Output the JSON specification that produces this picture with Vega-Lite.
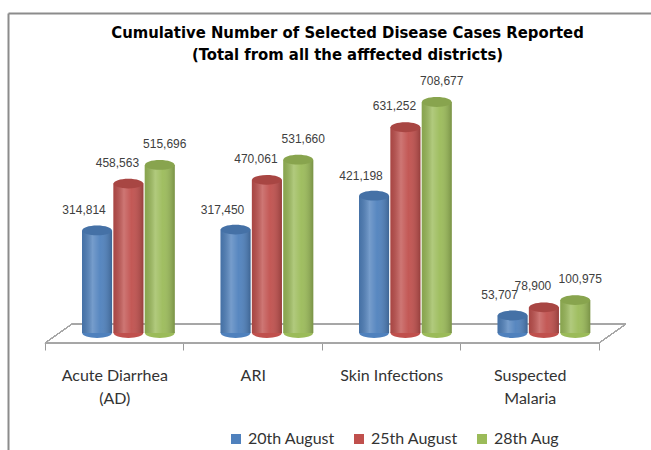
{
  "$schema": "https://vega.github.io/schema/vega-lite/v6.json",
  "width": 643,
  "height": 437,
  "autosize": {"type": "none"},
  "padding": {"left": 8, "top": 13, "right": 0, "bottom": 0},
  "background": "white",
  "config": {
    "view": {"stroke": null},
    "axis": {"grid": false},
    "axisY": {"domain": true, "domainColor": "#8c8c8c", "domainWidth": 2, "ticks": false, "labels": false}
  },
  "title": {
    "text": ["Cumulative Number of Selected Disease  Cases Reported", "(Total from all the afffected districts)"],
    "font": "DejaVu Sans Condensed",
    "fontSize": 16.5,
    "fontWeight": "bold",
    "color": "black",
    "anchor": "middle",
    "dx": 18,
    "offset": -50,
    "lineHeight": 22
  },
  "data": {
    "values": [
      {"disease": "Acute Diarrhea (AD)", "date": "20th August", "cases": 314814},
      {"disease": "Acute Diarrhea (AD)", "date": "25th August", "cases": 458563},
      {"disease": "Acute Diarrhea (AD)", "date": "28th Aug", "cases": 515696},
      {"disease": "ARI", "date": "20th August", "cases": 317450},
      {"disease": "ARI", "date": "25th August", "cases": 470061},
      {"disease": "ARI", "date": "28th Aug", "cases": 531660},
      {"disease": "Skin Infections", "date": "20th August", "cases": 421198},
      {"disease": "Skin Infections", "date": "25th August", "cases": 631252},
      {"disease": "Skin Infections", "date": "28th Aug", "cases": 708677},
      {"disease": "Suspected Malaria", "date": "20th August", "cases": 53707},
      {"disease": "Suspected Malaria", "date": "25th August", "cases": 78900},
      {"disease": "Suspected Malaria", "date": "28th Aug", "cases": 100975}
    ]
  },
  "layer": [
    {
      "encoding": {
        "x": {
          "field": "disease", "type": "nominal",
          "scale": {"type": "band", "domain": ["Acute Diarrhea (AD)", "ARI", "Skin Infections", "Suspected Malaria"], "paddingInner": 0, "paddingOuter": 0.3213, "align": 0.4157},
          "axis": {
            "orient": "bottom", "title": null, "tickBand": "extent", "offset": -107, "domain": false,
            "tickColor": "#9a9a9a", "tickSize": 7,
            "labelFont": "Lato", "labelFontSize": 16, "labelColor": "#333333", "labelPadding": 17, "labelLineHeight": 23, "labelAngle": 0,
            "labelExpr": "datum.label == 'Acute Diarrhea (AD)' ? ['Acute Diarrhea', '(AD)'] : datum.label == 'Suspected Malaria' ? ['Suspected', 'Malaria'] : datum.label"
          }
        }
      },
      "layer": [
        {"mark": {"type": "point", "opacity": 0}},
        {
          "mark": {"type": "rule", "color": "#a6a6a6", "yOffset": 10},
          "encoding": {
            "x": {"datum": "Acute Diarrhea (AD)", "type": "nominal", "bandPosition": 0},
            "x2": {"datum": "Suspected Malaria", "bandPosition": 1},
            "y": {"datum": 0, "type": "quantitative", "title": null, "scale": {"domain": [-358942, 981722], "nice": false, "zero": false}}
          }
        },
        {
          "mark": {"type": "rule", "color": "#a6a6a6", "yOffset": -9},
          "encoding": {
            "x": {"datum": "Acute Diarrhea (AD)", "type": "nominal", "bandPosition": 0.195},
            "x2": {"datum": "Suspected Malaria", "bandPosition": 1.195},
            "y": {"datum": 0, "type": "quantitative", "title": null}
          }
        },
        {
          "mark": {"type": "rule", "color": "#a6a6a6", "yOffset": 10, "y2Offset": -9},
          "encoding": {
            "x": {"datum": "Acute Diarrhea (AD)", "type": "nominal", "bandPosition": 0},
            "x2": {"datum": "Acute Diarrhea (AD)", "bandPosition": 0.195},
            "y": {"datum": 0, "type": "quantitative", "title": null},
            "y2": {"datum": 0}
          }
        },
        {
          "mark": {"type": "rule", "color": "#a6a6a6", "yOffset": 10, "y2Offset": -9},
          "encoding": {
            "x": {"datum": "Suspected Malaria", "type": "nominal", "bandPosition": 1},
            "x2": {"datum": "Suspected Malaria", "bandPosition": 1.195},
            "y": {"datum": 0, "type": "quantitative", "title": null},
            "y2": {"datum": 0}
          }
        }
      ]
    },
    {
      "encoding": {
        "x": {
          "field": "disease", "type": "nominal",
          "scale": {"type": "band", "domain": ["Acute Diarrhea (AD)", "ARI", "Skin Infections", "Suspected Malaria"], "paddingInner": 0.33, "paddingOuter": 0.4863, "align": 0.5494},
          "axis": {"orient": "top", "title": null, "domain": true, "domainColor": "#8c8c8c", "domainWidth": 2, "ticks": false, "labels": false}
        },
        "xOffset": {"field": "date", "type": "nominal", "scale": {"domain": ["20th August", "25th August", "28th Aug"], "paddingInner": 0.04}},
        "y": {"field": "cases", "type": "quantitative", "title": null, "scale": {"domain": [-358942, 981722], "nice": false, "zero": false}},
        "color": {
          "field": "date", "type": "nominal",
          "scale": {"domain": ["20th August", "25th August", "28th Aug"], "range": ["#4F81BD", "#C0504D", "#9BBB59"]},
          "legend": {
            "orient": "none", "legendX": 220, "legendY": 418, "direction": "horizontal", "title": null,
            "symbolType": "square", "symbolSize": 100, "symbolStrokeWidth": 0,
            "labelFont": "Lato", "labelFontSize": 16, "labelColor": "#333333", "columnPadding": 16, "labelOffset": 4
          }
        }
      },
      "layer": [
        {"mark": {"type": "bar"}, "encoding": {"y2": {"datum": 0}}},
        {
          "mark": {"type": "point", "filled": true, "opacity": 1, "size": 880, "shape": "M -1 0 C -1 -0.182 -0.552 -0.33 0 -0.33 C 0.552 -0.33 1 -0.182 1 0 C 1 0.182 0.552 0.33 0 0.33 C -0.552 0.33 -1 0.182 -1 0 Z"},
          "encoding": {"y": {"datum": 0, "type": "quantitative", "title": null}}
        },
        {
          "mark": {"type": "bar"},
          "encoding": {
            "y2": {"datum": 0},
            "color": {"value": {"gradient": "linear", "x1": 0, "x2": 1, "y1": 0, "y2": 0, "stops": [
              {"offset": 0, "color": "rgba(0,0,0,0.12)"},
              {"offset": 0.35, "color": "rgba(255,255,255,0.22)"},
              {"offset": 0.6, "color": "rgba(255,255,255,0.05)"},
              {"offset": 1, "color": "rgba(0,0,0,0.22)"}
            ]}}
          }
        },
        {
          "mark": {"type": "point", "filled": true, "opacity": 1, "size": 880, "shape": "M -1 0 C -1 -0.182 -0.552 -0.33 0 -0.33 C 0.552 -0.33 1 -0.182 1 0 C 1 0.182 0.552 0.33 0 0.33 C -0.552 0.33 -1 0.182 -1 0 Z"}
        },
        {
          "mark": {"type": "point", "filled": true, "opacity": 1, "size": 880, "shape": "M -1 0 C -1 -0.182 -0.552 -0.33 0 -0.33 C 0.552 -0.33 1 -0.182 1 0 C 1 0.182 0.552 0.33 0 0.33 C -0.552 0.33 -1 0.182 -1 0 Z"},
          "encoding": {"color": {"value": "rgba(0,0,0,0.12)"}}
        },
        {
          "transform": [{"filter": "datum.date == '20th August'"}],
          "mark": {"type": "text", "dx": -13, "dy": -16, "baseline": "alphabetic", "font": "Liberation Sans", "fontSize": 12},
          "encoding": {
            "text": {"field": "cases", "type": "quantitative", "format": ","},
            "color": {"value": "#404040"}
          }
        },
        {
          "transform": [{"filter": "datum.date == '25th August'"}],
          "mark": {"type": "text", "dx": -11, "dy": -17, "baseline": "alphabetic", "font": "Liberation Sans", "fontSize": 12},
          "encoding": {
            "text": {"field": "cases", "type": "quantitative", "format": ","},
            "color": {"value": "#404040"}
          }
        },
        {
          "transform": [{"filter": "datum.date == '28th Aug'"}],
          "mark": {"type": "text", "dx": 5, "dy": -17, "baseline": "alphabetic", "font": "Liberation Sans", "fontSize": 12},
          "encoding": {
            "text": {"field": "cases", "type": "quantitative", "format": ","},
            "color": {"value": "#404040"}
          }
        }
      ]
    }
  ],
  "resolve": {"scale": {"x": "independent"}, "axis": {"x": "independent"}}
}
